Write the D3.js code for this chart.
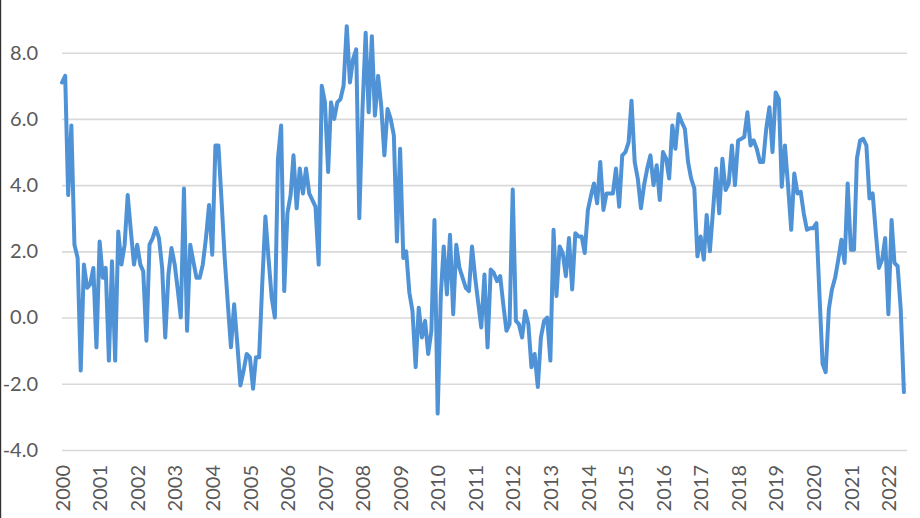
<!DOCTYPE html>
<html>
<head>
<meta charset="utf-8">
<script src="https://cdn.jsdelivr.net/npm/d3@7"></script>
<style>
  body { margin: 0; background: #fff; }
  svg { display: block; }
  .tick text { font-family: Lato, "Open Sans", sans-serif; fill: #595959; }
</style>
</head>
<body>
<div id="chart"></div>
<script>
// monthly values, Jan 2000 .. Jun 2022
var startYear = 2000;
var values = [
  7.1, 7.3, 3.7, 5.8, 2.2, 1.8, -1.6, 1.6, 0.9, 1.0, 1.5, -0.9,      // 2000
  2.3, 1.2, 1.5, -1.3, 1.7, -1.3, 2.6, 1.6, 2.2, 3.7, 2.6, 1.6,      // 2001
  2.2, 1.6, 1.4, -0.7, 2.2, 2.4, 2.7, 2.4, 1.5, -0.6, 1.3, 2.1,      // 2002
  1.6, 0.8, 0.0, 3.9, -0.4, 2.2, 1.7, 1.2, 1.2, 1.6, 2.4, 3.4,       // 2003
  1.9, 5.2, 5.2, 3.5, 1.8, 0.4, -0.9, 0.4, -0.8, -2.05, -1.6, -1.1,  // 2004
  -1.2, -2.15, -1.2, -1.2, 1.0, 3.05, 1.8, 0.6, 0.0, 4.8, 5.8, 0.8,  // 2005
  3.15, 3.7, 4.9, 3.3, 4.5, 3.75, 4.5, 3.75, 3.55, 3.35, 1.6, 7.0,   // 2006
  6.5, 4.4, 6.5, 6.0, 6.5, 6.6, 7.0, 8.8, 7.1, 7.8, 8.1, 3.0,        // 2007
  6.3, 8.6, 6.2, 8.5, 6.1, 7.3, 6.4, 4.9, 6.3, 6.0, 5.5, 2.3,        // 2008
  5.1, 1.8, 2.0, 0.75, 0.2, -1.5, 0.3, -0.6, -0.1, -1.1, -0.4, 2.95, // 2009
  -2.9, 0.7, 2.15, 0.7, 2.5, 0.1, 2.2, 1.5, 1.2, 0.9, 0.8, 2.15,     // 2010
  1.2, 0.4, -0.3, 1.3, -0.9, 1.45, 1.35, 1.1, 1.25, 0.4, -0.4, -0.2, // 2011
  3.87, -0.1, -0.2, -0.6, 0.2, -0.2, -1.5, -1.1, -2.1, -0.6, -0.1, 0.0, // 2012
  -1.3, 2.65, 0.65, 2.15, 1.95, 1.25, 2.4, 0.85, 2.55, 2.45, 2.45, 1.95, // 2013
  3.25, 3.7, 4.05, 3.45, 4.7, 3.25, 3.75, 3.75, 3.75, 4.5, 3.35, 4.9, // 2014
  5.0, 5.3, 6.55, 4.7, 4.2, 3.3, 4.0, 4.5, 4.9, 4.0, 4.6, 3.55,      // 2015
  5.0, 4.8, 4.2, 5.8, 5.1, 6.15, 5.9, 5.7, 4.7, 4.2, 3.9, 1.85,      // 2016
  2.45, 1.75, 3.1, 2.0, 3.2, 4.5, 3.15, 4.8, 3.85, 4.05, 5.2, 4.0,   // 2017
  5.35, 5.4, 5.45, 6.2, 5.2, 5.35, 5.1, 4.7, 4.7, 5.7, 6.35, 5.0,    // 2018
  6.8, 6.6, 3.95, 5.2, 4.0, 2.65, 4.35, 3.75, 3.8, 3.15, 2.65, 2.7,  // 2019
  2.7, 2.85, 0.75, -1.4, -1.65, 0.25, 0.85, 1.2, 1.75, 2.35, 1.65, 4.05, // 2020
  2.05, 2.05, 4.8, 5.35, 5.4, 5.2, 3.6, 3.75, 2.55, 1.5, 1.75, 2.4,  // 2021
  0.1, 2.95, 1.65, 1.55, 0.25, -2.25                                 // 2022
];
var yTicks = [-4, -2, 0, 2, 4, 6, 8];
var yearTicks = d3.range(2000, 2023);

var svgWidth = 920;
var svgHeight = 518;

var svg = d3.select("#chart")
  .append("svg")
  .attr("width", svgWidth)
  .attr("height", svgHeight);

// thin dark edge on the left like the screenshot
svg.append("rect")
  .attr("x", 0).attr("y", 0)
  .attr("width", 1.2).attr("height", svgHeight)
  .attr("fill", "#333");

var data = values.map(function(v, i) {
  return { date: new Date(startYear, i, 1), value: v };
});

var x = d3.scaleTime()
  .domain([new Date(2000, 0, 1), new Date(2022, 6, 1)])
  .range([62, 907]);

var y = d3.scaleLinear()
  .domain([-4, 8])
  .range([450, 52.7]);

// gridlines
svg.append("g")
  .attr("transform", "translate(62,0)")
  .call(d3.axisLeft(y).tickValues(yTicks).tickSize(-845).tickFormat(""))
  .call(function(g) {
    g.select(".domain").remove();
    g.selectAll(".tick line").attr("stroke", "#d9d9d9").attr("stroke-width", 1.6);
  });

// y labels
svg.append("g")
  .attr("transform", "translate(62,0)")
  .call(d3.axisLeft(y).tickValues(yTicks).tickSize(0).tickPadding(24)
    .tickFormat(function(d) { return d.toFixed(1); }))
  .call(function(g) {
    g.select(".domain").remove();
    g.selectAll(".tick text").style("font-size", "20px");
  });

// x labels (years, rotated)
svg.append("g")
  .attr("transform", "translate(0,450)")
  .call(d3.axisBottom(x)
    .tickValues(yearTicks.map(function(yr) { return new Date(yr, 0, 1); }))
    .tickSize(0)
    .tickFormat(d3.timeFormat("%Y")))
  .call(function(g) {
    g.select(".domain").remove();
    g.selectAll(".tick text")
      .style("font-size", "20px")
      .attr("transform", "rotate(-90)")
      .attr("text-anchor", "end")
      .attr("x", -15)
      .attr("y", 0)
      .attr("dy", "0.36em");
  });

var line = d3.line()
  .x(function(d) { return x(d.date); })
  .y(function(d) { return y(d.value); });

svg.append("path")
  .datum(data)
  .attr("fill", "none")
  .attr("stroke", "#4f93d6")
  .attr("stroke-width", 4)
  .attr("stroke-linejoin", "round")
  .attr("stroke-linecap", "round")
  .attr("d", line);
</script>
</body>
</html>
